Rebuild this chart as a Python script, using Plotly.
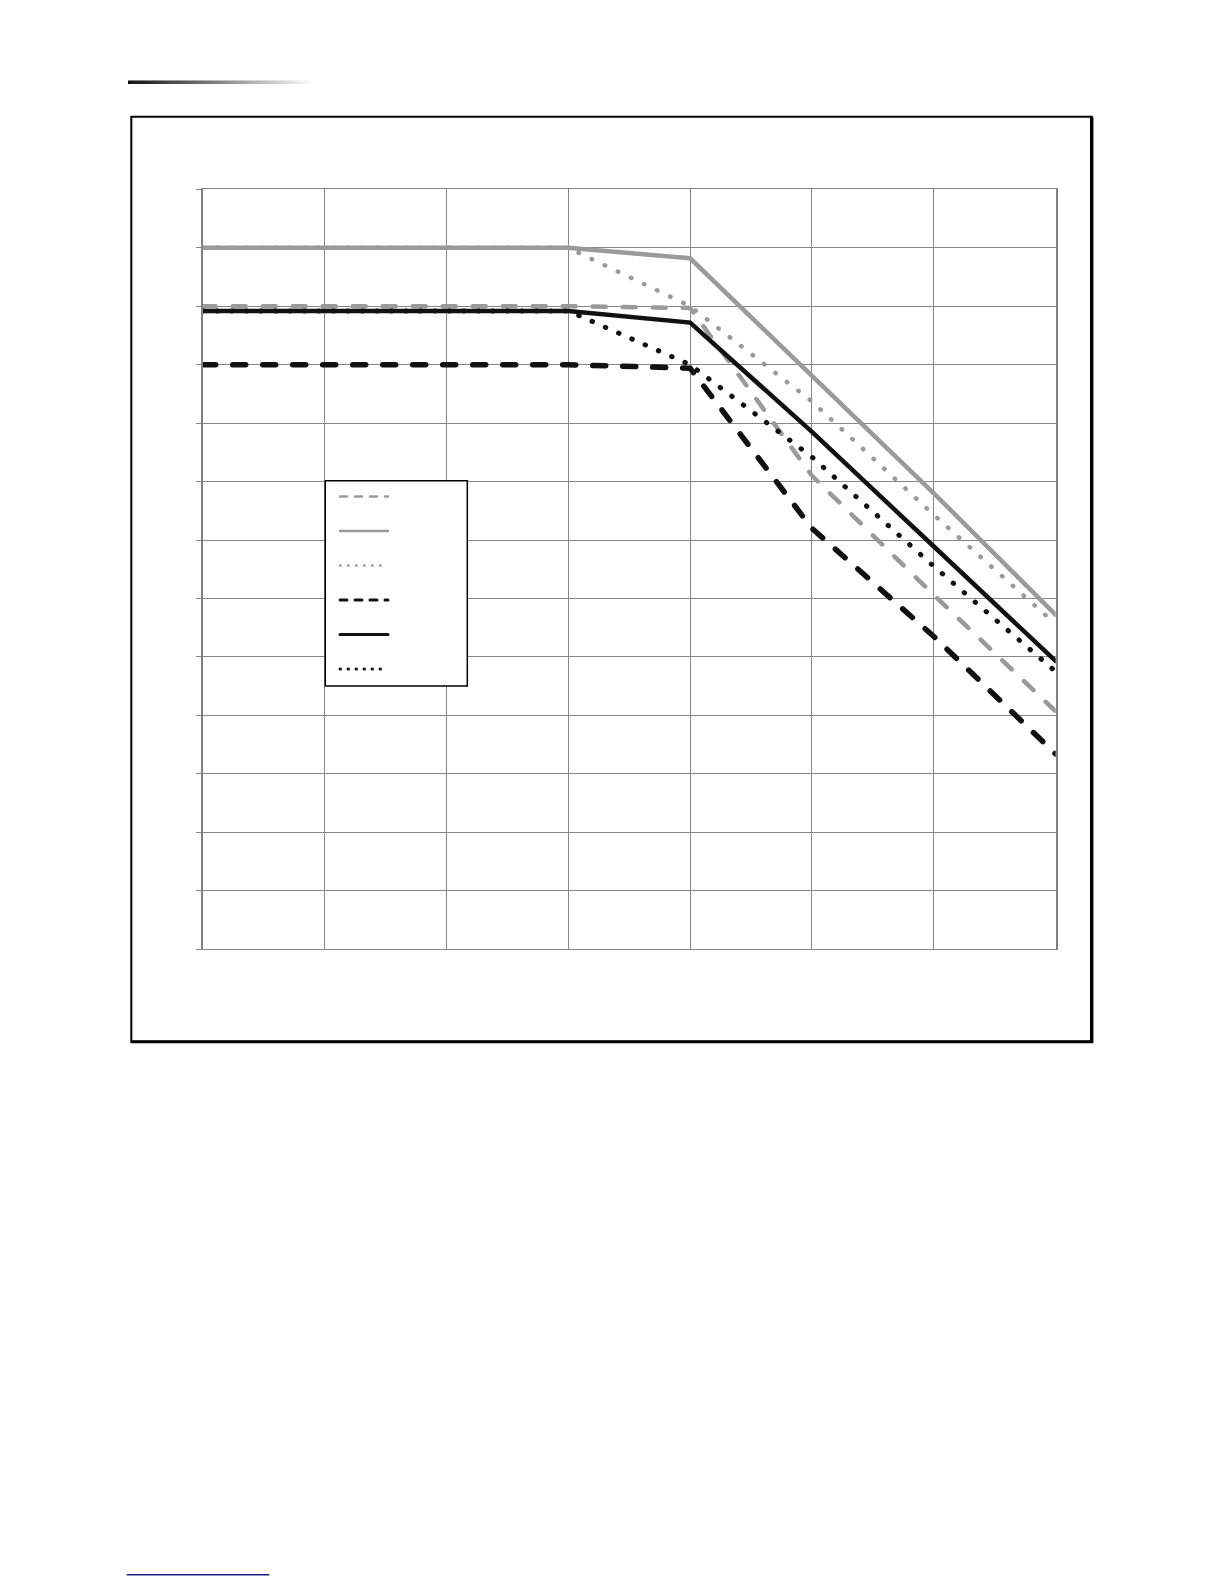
"""
Derating-style curves chart, six series on a grid without labels
"""
import plotly.graph_objects as go

W, H = 1224, 1584

# grid units (x: 7 divisions, y: 13 divisions)
x_points = [0, 1, 2, 3, 4, 5, 6, 7]
gray_dashed = [11.0, 11.0, 11.0, 11.0, 10.97, 8.1, 6.06, 4.07]
gray_solid = [12.0, 12.0, 12.0, 12.0, 11.82, 9.8, 7.8, 5.72]
gray_dotted = [12.0, 12.0, 12.0, 12.0, 11.0, 9.37, 7.43, 5.56]
black_dashed = [10.0, 10.0, 10.0, 10.0, 9.94, 7.2, 5.35, 3.34]
black_solid = [10.92, 10.92, 10.92, 10.92, 10.72, 8.85, 6.89, 4.93]
black_dotted = [10.92, 10.92, 10.92, 10.92, 10.0, 8.42, 6.55, 4.75]

x_range = [0, 7]
y_range = [0, 13]


def px_x(x):
    return x / W


def px_y(y):
    return 1 - y / H


GRAY = "#9a9a9a"
BLACK = "#111111"
# round caps are set in the page script below, so dash lengths are shortened
DASH = "13px,17px"
DOT = "0.5px,14px"

series = [
    (gray_dashed, GRAY, DASH, 4.5),
    (gray_solid, GRAY, "solid", 4.5),
    (gray_dotted, GRAY, DOT, 4.5),
    (black_dashed, BLACK, DASH, 5.5),
    (black_solid, BLACK, "solid", 4.5),
    (black_dotted, BLACK, DOT, 5),
]

fig = go.Figure()
for i, (vals, color, dash, lw) in enumerate(series):
    fig.add_trace(go.Scatter(
        x=x_points, y=vals, mode="lines", name="",
        legendgroup=f"g{i}",
        line=dict(color=color, width=lw, dash=dash),
    ))

shapes = []
# outer frame
shapes.append(dict(type="rect", xref="paper", yref="paper",
                   x0=px_x(131.3), x1=px_x(1091.7), y0=px_y(1041.7), y1=px_y(116.7),
                   line=dict(color="black", width=2), layer="below"))
shapes.append(dict(type="line", xref="paper", yref="paper",
                   x0=px_x(1091.7), x1=px_x(1091.7), y0=px_y(1042.5), y1=px_y(117),
                   line=dict(color="black", width=3.5)))
shapes.append(dict(type="line", xref="paper", yref="paper",
                   x0=px_x(131), x1=px_x(1093), y0=px_y(1041.7), y1=px_y(1041.7),
                   line=dict(color="black", width=3)))
# legend box
shapes.append(dict(type="rect", xref="paper", yref="paper",
                   x0=px_x(325.3), x1=px_x(467.3), y0=px_y(686), y1=px_y(480.7),
                   line=dict(color="black", width=1.5), fillcolor="white", layer="above"))
# header gradient bar
n = 60
x_start, x_end = 128, 314
for k in range(n):
    t = k / (n - 1)
    c = int(17 + (255 - 17) * t)
    xa = x_start + (x_end - x_start) * k / n
    xb = x_start + (x_end - x_start) * (k + 1) / n
    shapes.append(dict(type="rect", xref="paper", yref="paper",
                       x0=px_x(xa), x1=px_x(xb + 0.5), y0=px_y(84), y1=px_y(80.5),
                       line=dict(width=0), fillcolor=f"rgb({c},{c},{c})"))
# footer link line
shapes.append(dict(type="line", xref="paper", yref="paper",
                   x0=px_x(126.7), x1=px_x(269.3), y0=px_y(1574.7), y1=px_y(1574.7),
                   line=dict(color="#1c1c86", width=1.5)))

fig.update_layout(
    width=W, height=H,
    margin=dict(l=0, r=0, t=0, b=0),
    paper_bgcolor="white", plot_bgcolor="white",
    showlegend=True,
    legend=dict(
        x=px_x(335), y=px_y(482), xanchor="left", yanchor="top",
        bgcolor="rgba(0,0,0,0)", borderwidth=0,
        itemwidth=48, tracegroupgap=15.5,
        font=dict(size=10),
    ),
    shapes=shapes,
    xaxis=dict(
        domain=[px_x(202.7), px_x(1055.7)], range=x_range, dtick=1, tick0=0,
        showgrid=True, gridcolor="#868686", gridwidth=1.3,
        showticklabels=False, ticks="", zeroline=False,
        showline=True, linecolor="#868686", linewidth=1.3, mirror=True,
    ),
    yaxis=dict(
        domain=[px_y(949.3), px_y(189.3)], range=y_range, dtick=1, tick0=0,
        showgrid=True, gridcolor="#868686", gridwidth=1.3,
        showticklabels=False, ticks="outside", ticklen=5, tickwidth=1.3,
        tickcolor="#868686", zeroline=False,
        showline=True, linecolor="#808080", linewidth=2.2, mirror=True,
    ),
)

# round line caps for dashes/dots, thinner and denser symbols in the legend
page_js = """
document.body.style.margin = '0';
document.querySelectorAll('path.js-line').forEach(function (p) {
    p.style.strokeLinecap = 'round';
});
var legendDash = ['7px,8px', '', '0.5px,7.5px', '7px,8px', '', '0.5px,7.5px'];
document.querySelectorAll('.legendlines path.js-line').forEach(function (p, i) {
    p.style.strokeWidth = (i < 3) ? '2.5px' : '3px';
    if (legendDash[i]) { p.style.strokeDasharray = legendDash[i]; }
});
"""

fig.write_html("out.html", config={"displayModeBar": False}, post_script=page_js)
